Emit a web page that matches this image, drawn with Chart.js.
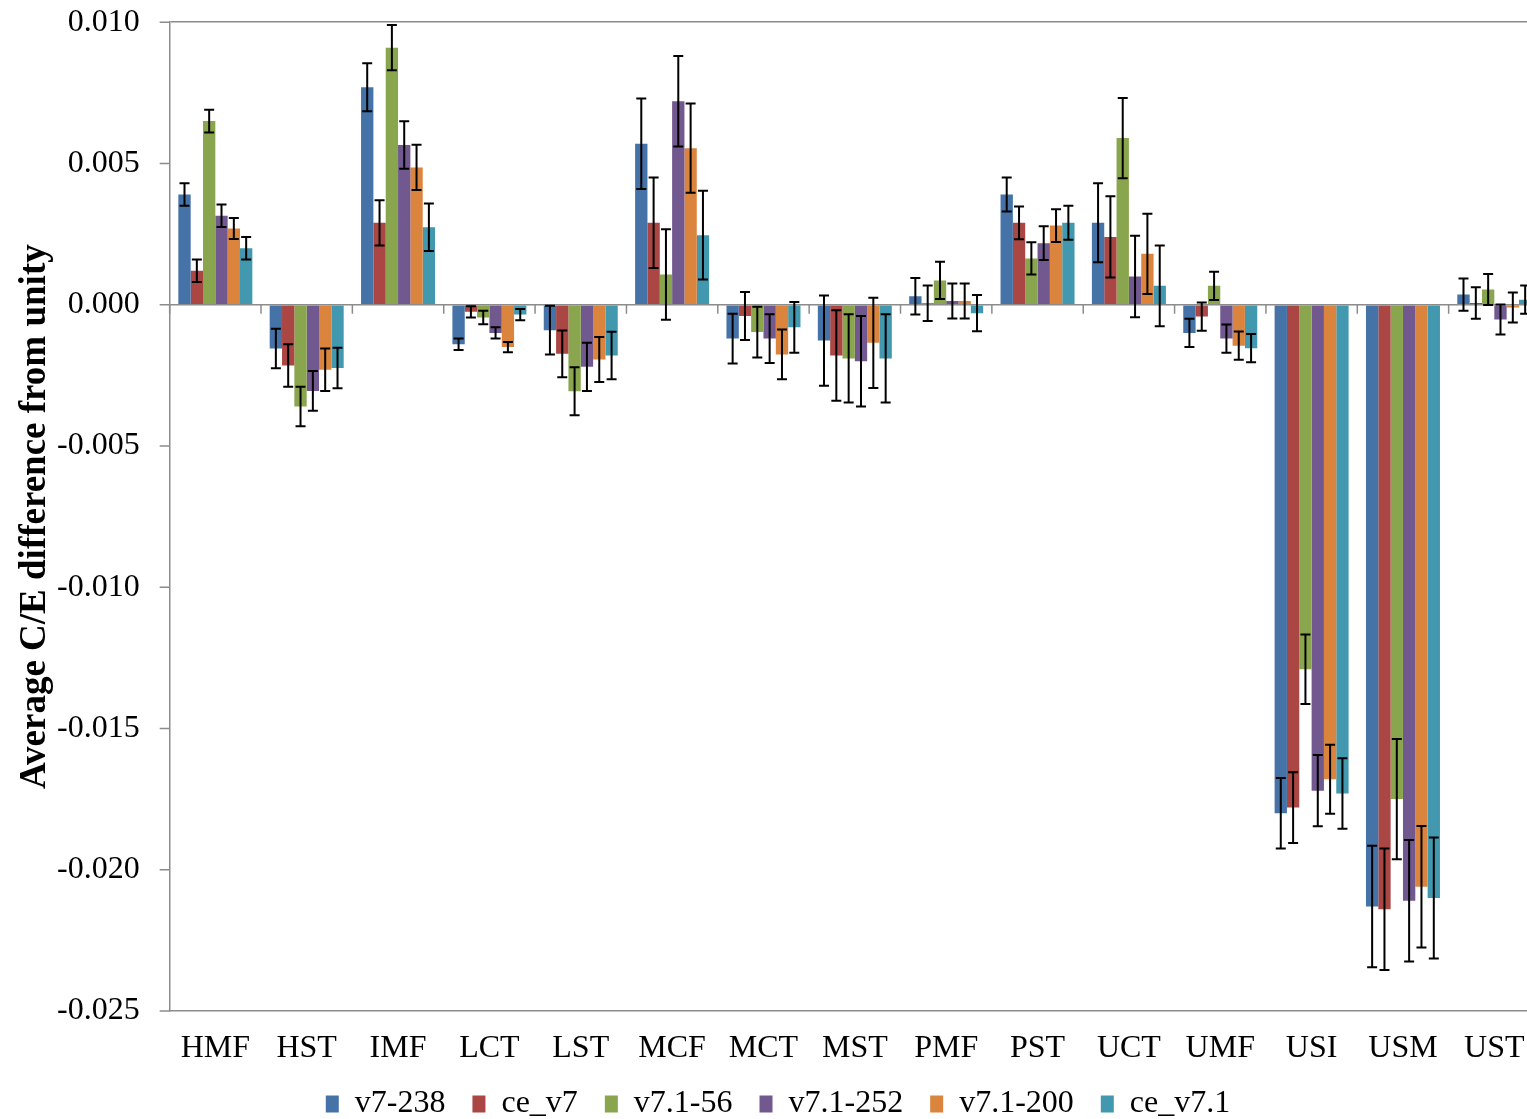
<!DOCTYPE html>
<html>
<head>
<meta charset="utf-8">
<script src="https://cdn.jsdelivr.net/npm/chart.js@4/dist/chart.umd.min.js"></script>
<style>
    html, body { margin: 0; padding: 0; background: #fff; overflow: hidden; }
    #wrap { width: 1545px; height: 1132px; position: relative; }
</style>
</head>
<body>
<div id="wrap"><canvas id="chart"></canvas></div>
<script>
// categories and series
const categories = ['HMF', 'HST', 'IMF', 'LCT', 'LST', 'MCF', 'MCT', 'MST', 'PMF', 'PST', 'UCT', 'UMF', 'USI', 'USM', 'UST'];

const v7_238   = [0.0039, -0.00155, 0.0077, -0.0014, -0.0009, 0.0057, -0.0012, -0.00127, 0.0003, 0.0039, 0.0029, -0.001, -0.018, -0.0213, 0.00036];
const ce_v7    = [0.0012, -0.00215, 0.0029, -0.00025, -0.00174, 0.0029, -0.0004, -0.0018, 0.00005, 0.0029, 0.0024, -0.00042, -0.0178, -0.0214, 0.00006];
const v71_56   = [0.0065, -0.0036, 0.0091, -0.00045, -0.00306, 0.00107, -0.00097, -0.0019, 0.00086, 0.00164, 0.0059, 0.00067, -0.0129, -0.0175, 0.00054];
const v71_252  = [0.00315, -0.00305, 0.00565, -0.001, -0.0022, 0.0072, -0.0012, -0.002, 0.00013, 0.00218, 0.001, -0.0012, -0.0172, -0.0211, -0.00052];
const v71_200  = [0.0027, -0.0023, 0.00486, -0.0015, -0.00194, 0.00554, -0.00176, -0.00135, 0.00013, 0.0028, 0.0018, -0.00145, -0.0168, -0.0206, -0.0001];
const ce_v71   = [0.002, -0.00224, 0.00274, -0.00035, -0.0018, 0.00246, -0.0008, -0.0019, -0.0003, 0.0029, 0.00067, -0.00154, -0.0173, -0.021, 0.00018];

// error bar half-lengths
const err_v7_238  = [0.0004, 0.0007, 0.00085, 0.0002, 0.00086, 0.0016, 0.00088, 0.0016, 0.00065, 0.0006, 0.0014, 0.0005, 0.00125, 0.00215, 0.00057];
const err_ce_v7   = [0.0004, 0.00075, 0.0008, 0.0002, 0.00083, 0.0016, 0.00085, 0.0016, 0.00063, 0.00058, 0.00144, 0.0005, 0.00125, 0.00215, 0.00056];
const err_v71_56  = [0.0004, 0.0007, 0.0008, 0.00024, 0.00085, 0.0016, 0.0009, 0.00156, 0.00066, 0.00057, 0.00142, 0.0005, 0.00123, 0.00213, 0.00055];
const err_v71_252 = [0.0004, 0.0007, 0.00084, 0.0002, 0.00085, 0.0016, 0.00086, 0.0016, 0.00062, 0.0006, 0.00144, 0.0005, 0.00126, 0.00215, 0.00053];
const err_v71_200 = [0.00037, 0.00075, 0.0008, 0.00018, 0.0008, 0.00158, 0.00088, 0.0016, 0.00062, 0.00058, 0.00142, 0.0005, 0.00122, 0.00215, 0.00053];
const err_ce_v71  = [0.0004, 0.00072, 0.00084, 0.0002, 0.00084, 0.00157, 0.0009, 0.00156, 0.00064, 0.0006, 0.00143, 0.0005, 0.00125, 0.00214, 0.0005];

const yTicks = [-0.025, -0.020, -0.015, -0.010, -0.005, 0.000, 0.005, 0.010];

const seriesNames = ['v7-238', 'ce_v7', 'v7.1-56', 'v7.1-252', 'v7.1-200', 'ce_v7.1'];
const seriesValues = [v7_238, ce_v7, v71_56, v71_252, v71_200, ce_v71];
const seriesErrors = [err_v7_238, err_ce_v7, err_v71_56, err_v71_252, err_v71_200, err_ce_v71];
const seriesColors = ['#4572A7', '#AA4643', '#89A54E', '#71588F', '#DB843D', '#4198AF'];

const AXIS_GREY = '#8c8c8c';
const FONT = 'Liberation Serif, Times New Roman, serif';

// error bars, zero axis line, category tick marks and value-axis tick marks
const errorBarPlugin = {
    id: 'errorBars',
    afterDatasetsDraw(chart) {
        const ctx = chart.ctx;
        const x = chart.scales.x;
        const y = chart.scales.y;
        const area = chart.chartArea;
        const zero = y.getPixelForValue(0);

        ctx.save();
        ctx.strokeStyle = AXIS_GREY;
        ctx.lineWidth = 1.5;
        ctx.beginPath();
        // horizontal axis crossing at zero
        ctx.moveTo(area.left, zero);
        ctx.lineTo(area.right, zero);
        const step = (x.right - x.left) / categories.length;
        for (let i = 0; i <= categories.length; i++) {
            const px = x.left + i * step;
            ctx.moveTo(px, zero);
            ctx.lineTo(px, zero + 9);
        }
        // outside tick marks on the value axis
        yTicks.forEach(v => {
            const py = y.getPixelForValue(v);
            ctx.moveTo(area.left - 10, py);
            ctx.lineTo(area.left, py);
        });
        ctx.stroke();

        // error bars
        ctx.strokeStyle = '#000';
        ctx.lineWidth = 2;
        seriesErrors.forEach((errs, d) => {
            const meta = chart.getDatasetMeta(d);
            if (meta.hidden) return;
            meta.data.forEach((bar, i) => {
                const v = seriesValues[d][i];
                const top = y.getPixelForValue(v + errs[i]);
                const bot = y.getPixelForValue(v - errs[i]);
                const cx = bar.x;
                ctx.beginPath();
                ctx.moveTo(cx, top);
                ctx.lineTo(cx, bot);
                ctx.moveTo(cx - 5, top);
                ctx.lineTo(cx + 5, top);
                ctx.moveTo(cx - 5, bot);
                ctx.lineTo(cx + 5, bot);
                ctx.stroke();
            });
        });
        ctx.restore();
    }
};

const ctx = document.getElementById('chart');

new Chart(ctx, {
    type: 'bar',
    data: {
        labels: categories,
        datasets: seriesNames.map((name, i) => ({
            label: name,
            data: seriesValues[i],
            backgroundColor: seriesColors[i],
            borderWidth: 0,
            categoryPercentage: 0.81,
            barPercentage: 1.0
        }))
    },
    options: {
        responsive: true,
        maintainAspectRatio: false,
        animation: false,
        layout: {
            padding: { left: 16, right: 5, top: 0, bottom: 2 }
        },
        plugins: {
            legend: {
                display: true,
                position: 'bottom',
                labels: {
                    color: '#000',
                    boxWidth: 13,
                    boxHeight: 17,
                    padding: 27,
                    font: { family: FONT, size: 32 }
                }
            },
            tooltip: { enabled: false }
        },
        scales: {
            x: {
                grid: {
                    display: true,
                    drawOnChartArea: false,
                    color: 'rgba(0,0,0,0)',
                    tickColor: 'rgba(0,0,0,0)',
                    tickLength: 26
                },
                border: { display: true, color: AXIS_GREY, width: 1.5 },
                ticks: {
                    color: '#000',
                    padding: 0,
                    maxRotation: 0,
                    autoSkip: false,
                    font: { family: FONT, size: 32, lineHeight: 0.75 }
                }
            },
            y: {
                min: -0.025,
                max: 0.010,
                afterBuildTicks: (scale) => {
                    scale.ticks = yTicks.map(v => ({ value: v }));
                },
                grid: {
                    color: (c) => (c.tick && Math.abs(c.tick.value - 0.01) < 1e-9) ? AXIS_GREY : 'rgba(0,0,0,0)',
                    lineWidth: 1.5,
                    tickColor: 'rgba(0,0,0,0)',
                    tickLength: 27
                },
                border: { display: true, color: AXIS_GREY, width: 1.5 },
                ticks: {
                    color: '#000',
                    padding: 3,
                    font: { family: FONT, size: 32 },
                    callback: (v) => Number(v).toFixed(3)
                },
                title: {
                    display: true,
                    text: 'Average C/E difference from unity',
                    color: '#000',
                    padding: { top: 1, bottom: 0 },
                    font: { family: FONT, size: 37, weight: 'bold', lineHeight: 1.0 }
                }
            }
        }
    },
    plugins: [errorBarPlugin]
});
</script>
</body>
</html>
